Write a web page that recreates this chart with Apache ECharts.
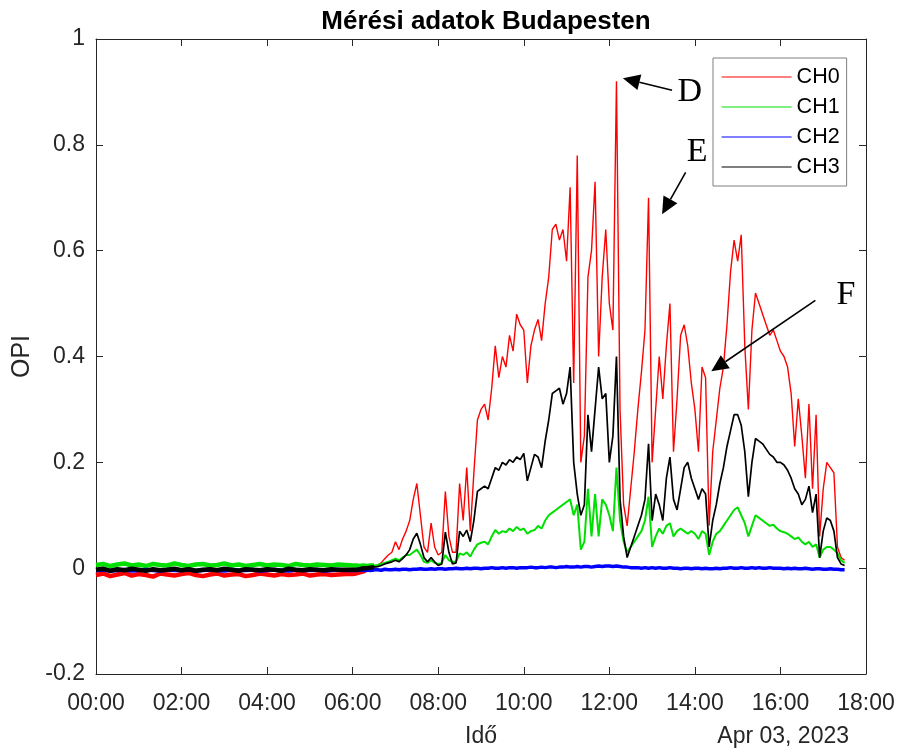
<!DOCTYPE html>
<html><head><meta charset="utf-8">
<script src="https://cdn.jsdelivr.net/npm/echarts@6/dist/echarts.min.js"></script>
<style>html,body{margin:0;padding:0;background:#fff}#c{width:900px;height:753px}</style>
</head><body><div id="c"></div>
<script>
// ---- time grid (night: 10 min, day: 5 min) ----
const nightTimes = "00:00 00:10 00:20 00:30 00:40 00:50 01:00 01:10 01:20 01:30 01:40 01:50 02:00 02:10 02:20 02:30 02:40 02:50 03:00 03:10 03:20 03:30 03:40 03:50 04:00 04:10 04:20 04:30 04:40 04:50 05:00 05:10 05:20 05:30 05:40 05:50 06:00".split(" ");
const dayTimes = ("06:05 06:10 06:15 06:20 06:25 06:30 06:35 06:40 06:45 06:50 06:55 " +
 "07:00 07:05 07:10 07:15 07:20 07:25 07:30 07:35 07:40 07:45 07:50 07:55 " +
 "08:00 08:05 08:10 08:15 08:20 08:25 08:30 08:35 08:40 08:45 08:50 08:55 " +
 "09:00 09:05 09:10 09:15 09:20 09:25 09:30 09:35 09:40 09:45 09:50 09:55 " +
 "10:00 10:05 10:10 10:15 10:20 10:25 10:30 10:35 10:40 10:45 10:50 10:55 " +
 "11:00 11:05 11:10 11:15 11:20 11:25 11:30 11:35 11:40 11:45 11:50 11:55 " +
 "12:00 12:05 12:10 12:15 12:20 12:25 12:30 12:35 12:40 12:45 12:50 12:55 " +
 "13:00 13:05 13:10 13:15 13:20 13:25 13:30 13:35 13:40 13:45 13:50 13:55 " +
 "14:00 14:05 14:10 14:15 14:20 14:25 14:30 14:35 14:40 14:45 14:50 14:55 " +
 "15:00 15:05 15:10 15:15 15:20 15:25 15:30 15:35 15:40 15:45 15:50 15:55 " +
 "16:00 16:05 16:10 16:15 16:20 16:25 16:30 16:35 16:40 16:45 16:50 16:55 " +
 "17:00 17:05 17:10 17:15 17:20 17:25 17:30").split(" ");

// ---- CH0 (red) ----
const ch0Night = [-0.013,-0.010,-0.015,-0.012,-0.009,-0.014,-0.011,-0.013,-0.016,-0.010,
 -0.012,-0.014,-0.011,-0.009,-0.013,-0.015,-0.012,-0.010,-0.014,-0.012,
 -0.011,-0.015,-0.013,-0.010,-0.012,-0.014,-0.011,-0.013,-0.012,-0.010,
 -0.014,-0.012,-0.011,-0.013,-0.012,-0.011,-0.011];
const ch0Day = [-0.010,-0.008,-0.006,-0.003,0.000,0.003,0.006,0.010,0.018,0.025,0.030,0.050,
 0.035,0.055,0.070,0.090,0.130,0.160,0.100,0.040,0.030,0.085,0.040,0.025,
 0.030,0.145,0.060,0.030,0.030,0.160,0.090,0.190,0.070,0.180,0.280,0.300,
 0.310,0.280,0.340,0.420,0.360,0.400,0.380,0.440,0.410,0.480,0.460,0.450,
 0.350,0.420,0.450,0.470,0.430,0.500,0.550,0.640,0.650,0.620,0.640,0.580,
 0.720,0.350,0.780,0.200,0.250,0.550,0.600,0.730,0.400,0.550,0.640,0.500,
 0.450,0.920,0.300,0.120,0.080,0.150,0.220,0.300,0.370,0.450,0.700,0.200,
 0.300,0.400,0.320,0.420,0.500,0.220,0.320,0.440,0.460,0.420,0.350,0.300,
 0.220,0.380,0.360,0.080,0.220,0.280,0.340,0.380,0.460,0.560,0.620,0.580,
 0.630,0.420,0.300,0.450,0.520,0.500,0.480,0.460,0.440,0.450,0.430,0.410,
 0.400,0.380,0.330,0.230,0.320,0.250,0.170,0.310,0.150,0.290,0.060,0.150,
 0.200,0.190,0.180,0.040,0.020,0.015];

// ---- CH1 (green) ----
const ch1Night = [0.006,0.008,0.004,0.007,0.009,0.005,0.007,0.004,0.008,0.006,
 0.005,0.009,0.006,0.004,0.007,0.008,0.005,0.006,0.009,0.005,
 0.007,0.004,0.006,0.008,0.005,0.007,0.006,0.004,0.008,0.006,
 0.005,0.007,0.006,0.005,0.007,0.006,0.005];
const ch1Day = [0.005,0.004,0.005,0.004,0.005,0.005,0.006,0.008,0.010,0.012,0.015,0.018,
 0.015,0.020,0.025,0.025,0.030,0.035,0.025,0.012,0.010,0.015,0.010,0.008,
 0.010,0.025,0.015,0.012,0.012,0.028,0.025,0.030,0.022,0.035,0.045,0.048,
 0.050,0.045,0.060,0.072,0.065,0.070,0.068,0.075,0.070,0.078,0.072,0.075,
 0.065,0.070,0.072,0.080,0.075,0.090,0.100,0.105,0.110,0.115,0.120,0.125,
 0.130,0.100,0.120,0.035,0.050,0.150,0.060,0.140,0.060,0.130,0.120,0.100,
 0.070,0.190,0.090,0.050,0.030,0.040,0.050,0.060,0.070,0.090,0.135,0.040,
 0.060,0.075,0.065,0.080,0.085,0.060,0.070,0.075,0.070,0.065,0.070,0.065,
 0.055,0.070,0.065,0.025,0.050,0.065,0.070,0.080,0.090,0.100,0.110,0.115,
 0.100,0.085,0.060,0.080,0.100,0.095,0.090,0.085,0.080,0.082,0.075,0.070,
 0.068,0.065,0.060,0.055,0.058,0.050,0.045,0.050,0.040,0.045,0.020,0.035,
 0.040,0.040,0.035,0.028,0.015,0.010];

// ---- CH2 (blue) ----
const ch2Night = [-0.004,-0.003,-0.005,-0.004,-0.003,-0.005,-0.004,-0.003,-0.004,-0.005,
 -0.003,-0.004,-0.004,-0.003,-0.005,-0.004,-0.003,-0.004,-0.005,-0.003,
 -0.004,-0.004,-0.003,-0.005,-0.004,-0.003,-0.004,-0.005,-0.003,-0.004,
 -0.004,-0.003,-0.005,-0.004,-0.003,-0.004,-0.004];
const ch2Day = [-0.004,-0.003,-0.004,-0.003,-0.004,-0.003,-0.003,-0.004,-0.002,-0.003,-0.003,-0.002,
 -0.003,-0.002,-0.002,-0.003,-0.002,-0.002,-0.001,-0.002,-0.002,-0.001,-0.002,-0.001,
 -0.001,-0.002,-0.001,-0.001,0.000,-0.001,-0.001,0.000,-0.001,0.000,0.000,-0.001,
 0.000,0.000,0.001,0.000,0.000,0.001,0.000,0.001,0.001,0.000,0.001,0.001,
 0.001,0.002,0.001,0.001,0.002,0.001,0.002,0.002,0.001,0.002,0.002,0.003,
 0.002,0.002,0.003,0.002,0.003,0.003,0.002,0.003,0.004,0.003,0.004,0.004,
 0.003,0.004,0.003,0.002,0.002,0.001,0.001,0.001,0.000,0.001,0.000,0.001,
 0.000,0.001,0.000,0.000,0.001,0.000,0.000,-0.001,0.000,0.000,-0.001,0.000,
 0.000,-0.001,0.000,-0.001,-0.001,0.000,-0.001,0.000,0.000,0.001,0.000,0.000,
 0.001,0.000,0.000,0.001,0.000,0.001,0.000,0.000,0.001,0.000,0.000,0.000,
 -0.001,0.000,-0.001,0.000,-0.001,-0.001,0.000,-0.001,-0.002,-0.001,-0.001,-0.002,
 -0.002,-0.001,-0.002,-0.002,-0.003,-0.003];

// ---- CH3 (black) ----
const ch3Night = [-0.003,-0.001,-0.005,-0.002,-0.004,-0.001,-0.003,-0.005,-0.002,-0.004,
 -0.003,-0.001,-0.004,-0.002,-0.005,-0.003,-0.002,-0.004,-0.001,-0.003,
 -0.005,-0.002,-0.003,-0.004,-0.002,-0.003,-0.005,-0.001,-0.003,-0.004,
 -0.002,-0.003,-0.004,-0.002,-0.003,-0.003,-0.003];
const ch3Day = [-0.003,-0.002,0.000,0.000,0.001,0.002,0.003,0.005,0.008,0.010,0.012,0.015,
 0.012,0.018,0.025,0.035,0.055,0.066,0.045,0.020,0.012,0.020,0.012,0.005,
 0.008,0.068,0.030,0.008,0.010,0.070,0.060,0.072,0.050,0.090,0.145,0.150,
 0.155,0.150,0.170,0.190,0.185,0.200,0.195,0.205,0.200,0.210,0.205,0.217,
 0.165,0.190,0.215,0.210,0.190,0.240,0.280,0.330,0.335,0.340,0.310,0.330,
 0.380,0.200,0.140,0.100,0.120,0.290,0.220,0.300,0.380,0.320,0.330,0.200,
 0.250,0.400,0.130,0.060,0.020,0.040,0.060,0.080,0.100,0.130,0.235,0.090,
 0.140,0.120,0.090,0.170,0.210,0.130,0.110,0.150,0.190,0.200,0.170,0.150,
 0.130,0.150,0.140,0.040,0.090,0.120,0.160,0.190,0.230,0.260,0.290,0.290,
 0.270,0.220,0.135,0.200,0.245,0.240,0.235,0.225,0.215,0.210,0.200,0.200,
 0.195,0.185,0.170,0.150,0.140,0.120,0.130,0.155,0.105,0.140,0.020,0.070,
 0.095,0.090,0.070,0.020,0.008,0.005];

const seriesNames = ["CH0","CH1","CH2","CH3"];
const seriesColors = ["#ff0000","#00e000","#0000ff","#000000"];

// annotations: [label, textPos(min,val), tail(min,val), tip(min,val)]
const annotations = [
  ["D", [833, 0.900], [808, 0.903], [739, 0.926]],
  ["E", [843, 0.786], [827, 0.748], [794, 0.669]],
  ["F", [1052, 0.516], [1009, 0.506], [863, 0.372]]
];

// quiet (noisy-band) part is drawn thicker, up to this minute
const quietEnd = 390;

function toMin(t){ const p = t.split(":"); return (+p[0])*60 + (+p[1]); }
const times = nightTimes.concat(dayTimes).map(toMin);
const allVals = [ch0Night.concat(ch0Day), ch1Night.concat(ch1Day), ch2Night.concat(ch2Day), ch3Night.concat(ch3Day)];
const allData = allVals.map(v => times.map((m,i)=>[m, v[i]]));
const quietData = allData.map(d => d.filter(p => p[0] <= quietEnd));
const activeData = allData.map(d => d.filter(p => p[0] >= quietEnd));

const FONT = "'Liberation Sans', Arial, Helvetica, sans-serif";
const AX = "#262626";
const chart = echarts.init(document.getElementById("c"), null, {renderer:"canvas"});
function hhmm(v){ const h = Math.round(v/60); return (h<10?"0":"")+h+":00"; }
const xBase = {type:"value", min:0, max:1080, interval:120,
  axisLine:{show:true, onZero:false, lineStyle:{color:AX, width:1}},
  axisTick:{show:true, inside:true, length:7, lineStyle:{color:AX}},
  splitLine:{show:false}};
const yBase = {type:"value", min:-0.2, max:1, interval:0.2,
  axisLine:{show:true, onZero:false, lineStyle:{color:AX, width:1}},
  axisTick:{show:true, inside:true, length:7, lineStyle:{color:AX}},
  splitLine:{show:false}};

const quietWidth = [4.5, 4.5, 4, 4.5];
const activeWidth = [1.4, 2.0, 3.5, 1.7];
const series = [];
seriesNames.forEach((n,i)=>{
  series.push({name:n, type:"line", symbol:"none", showSymbol:false, data:quietData[i],
    color:seriesColors[i], lineStyle:{width:quietWidth[i], color:seriesColors[i]}, z:2+i});
  series.push({name:n, type:"line", symbol:"none", showSymbol:false, data:activeData[i],
    color:seriesColors[i], lineStyle:{width:activeWidth[i], color:seriesColors[i]}, z:2+i});
});

chart.setOption({
  animation:false,
  backgroundColor:"#fff",
  title:{text:"Mérési adatok Budapesten", left:481, top:4, textAlign:"center",
    textStyle:{fontFamily:FONT, fontWeight:"bold", fontSize:26, color:"#000"}},
  grid:{left:96, right:34, top:39, bottom:79},
  legend:{data:seriesNames, orient:"vertical", left:713, top:58,
    backgroundColor:"#fff", borderColor:"#7f7f7f", borderWidth:1,
    padding:[8,7,8,8], itemGap:8, itemWidth:70, itemHeight:21,
    lineStyle:{width:1.2}, itemStyle:{opacity:0},
    textStyle:{fontFamily:FONT, fontSize:21.5, color:"#000", lineHeight:21}},
  xAxis:[
    Object.assign({}, xBase, {position:"bottom",
      axisLabel:{formatter:hhmm, fontFamily:FONT, fontSize:23, color:AX, margin:18},
      name:"Idő", nameLocation:"middle", nameGap:51,
      nameTextStyle:{fontFamily:FONT, fontSize:23, color:AX}}),
    Object.assign({}, xBase, {position:"top", axisLabel:{show:false}})
  ],
  yAxis:[
    Object.assign({}, yBase, {position:"left",
      axisLabel:{formatter:v=>String(+v.toFixed(1)), fontFamily:FONT, fontSize:23, color:AX, margin:11},
      name:"OPI", nameLocation:"middle", nameGap:52, nameRotate:90,
      nameTextStyle:{fontFamily:FONT, fontSize:25, color:AX}}),
    Object.assign({}, yBase, {position:"right", axisLabel:{show:false}})
  ],
  series: series
});

// annotations positioned in data coordinates
const g = [{type:"text", id:"date", right:51, top:725, style:{text:"Apr 03, 2023", fontFamily:FONT, fontSize:23, fill:AX}}];
annotations.forEach((a,k)=>{
  const tp = chart.convertToPixel({gridIndex:0}, a[1]);
  const tl = chart.convertToPixel({gridIndex:0}, a[2]);
  const tip = chart.convertToPixel({gridIndex:0}, a[3]);
  const dx = tip[0]-tl[0], dy = tip[1]-tl[1], L = Math.hypot(dx,dy);
  const ux = dx/L, uy = dy/L, hl = 17, hw = 8;
  const bx = tip[0]-ux*hl, by = tip[1]-uy*hl;
  g.push({type:"line", id:"l"+k, shape:{x1:tl[0], y1:tl[1], x2:bx, y2:by}, style:{stroke:"#000", lineWidth:1.6}, z:100});
  g.push({type:"polygon", id:"p"+k, shape:{points:[[tip[0],tip[1]],[bx-uy*hw, by+ux*hw],[bx+uy*hw, by-ux*hw]]}, style:{fill:"#000"}, z:100});
  g.push({type:"text", id:"t"+k, x:tp[0], y:tp[1], style:{text:a[0], fontFamily:"'Liberation Serif','Times New Roman',serif", fontSize:34, fill:"#000", align:"center", verticalAlign:"middle"}, z:100});
});
chart.setOption({graphic:g});
</script></body></html>
